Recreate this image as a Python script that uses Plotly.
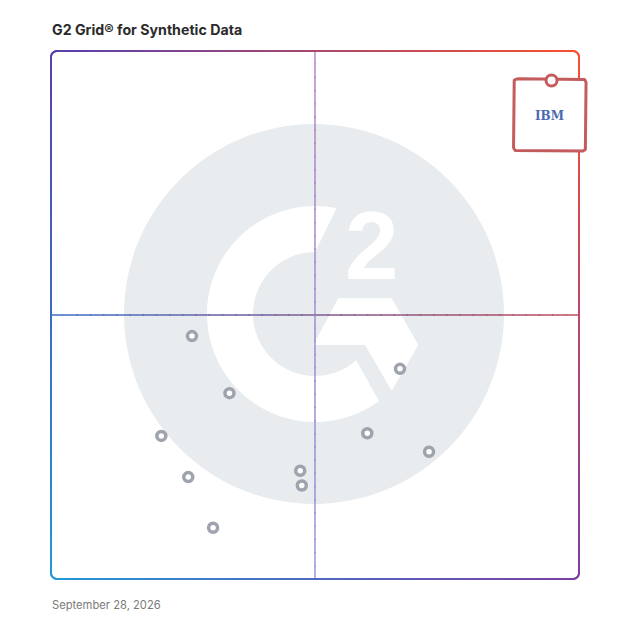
import numpy as np
import plotly.graph_objects as go

# ---------------- data ----------------
title_text = "G2 Grid® for Synthetic Data"
date_text = "September 28, 2026"

leader_names = ["IBM"]
leader_x = [94.8]          # market presence
leader_y = [94.4]          # satisfaction

other_x = [26.7, 33.8, 20.9, 26.0, 47.2, 47.5, 66.1, 59.9, 71.6, 30.7]
other_y = [46.0, 35.2, 27.1, 19.3, 20.5, 17.7, 39.8, 27.6, 24.1, 9.7]

# ---------------- geometry helpers ----------------
S = 5.28  # px per data unit (frame 0..100 spans 528 px)
L_PX, T_PX = 41, 41
R_PX, B_PX = 599, 589
FRAME_L, FRAME_B = 51, 579

def px_to_x(px):
    return (px - FRAME_L) / S

def py_to_y(py):
    return (FRAME_B - py) / S

def px_to_paper(px):
    return (px - L_PX) / (R_PX - L_PX)

def py_to_paper(py):
    return (B_PX - py) / (B_PX - T_PX)

TL = np.array([88, 64, 176])
TR = np.array([250, 82, 45])
BL = np.array([35, 152, 215])
BR = np.array([125, 62, 165])

def bilinear(u, v):
    top = TL * (1 - u) + TR * u
    bot = BL * (1 - u) + BR * u
    c = bot * (1 - v) + top * v
    return "rgb(%d,%d,%d)" % tuple(np.clip(c, 0, 255).astype(int))

def lerp_col(c0, c1, t):
    c = np.array(c0) * (1 - t) + np.array(c1) * t
    return "rgb(%d,%d,%d)" % tuple(c.astype(int))

def rounded_rect_points(x0, y0, x1, y1, r, n_edge=30, n_arc=6):
    pts = []
    for t in np.linspace(0, 1, n_edge + 1)[:-1]:
        pts.append((x0 + r + (x1 - x0 - 2 * r) * t, y1))
    for a in np.linspace(90, 0, n_arc + 1)[:-1]:
        pts.append((x1 - r + r * np.cos(np.radians(a)), y1 - r + r * np.sin(np.radians(a))))
    for t in np.linspace(0, 1, n_edge + 1)[:-1]:
        pts.append((x1, y1 - r - (y1 - y0 - 2 * r) * t))
    for a in np.linspace(0, -90, n_arc + 1)[:-1]:
        pts.append((x1 - r + r * np.cos(np.radians(a)), y0 + r + r * np.sin(np.radians(a))))
    for t in np.linspace(0, 1, n_edge + 1)[:-1]:
        pts.append((x1 - r - (x1 - x0 - 2 * r) * t, y0))
    for a in np.linspace(-90, -180, n_arc + 1)[:-1]:
        pts.append((x0 + r + r * np.cos(np.radians(a)), y0 + r + r * np.sin(np.radians(a))))
    for t in np.linspace(0, 1, n_edge + 1)[:-1]:
        pts.append((x0, y0 + r + (y1 - y0 - 2 * r) * t))
    for a in np.linspace(180, 90, n_arc + 1):
        pts.append((x0 + r + r * np.cos(np.radians(a)), y1 - r + r * np.sin(np.radians(a))))
    return pts

def path_from(points):
    return "M " + " L ".join("%.3f,%.3f" % p for p in points) + " Z"

def extended(xa, ya, xb, yb, ext):
    dx, dy = xb - xa, yb - ya
    d = np.hypot(dx, dy)
    if d == 0:
        return xa, ya, xb, yb
    ux, uy = dx / d, dy / d
    return xa - ux * ext, ya - uy * ext, xb + ux * ext, yb + uy * ext

shapes = []

# ---------------- G2 watermark ----------------
cx, cy = px_to_x(314), py_to_y(314)
shapes.append(dict(type="circle", xref="x", yref="y",
                   x0=cx - 190 / S, x1=cx + 190 / S, y0=cy - 190 / S, y1=cy + 190 / S,
                   fillcolor="#E9ECEF", line=dict(width=0), layer="below"))

gcx, gcy = px_to_x(315), py_to_y(314)
Ro, Ri = 108 / S, 62 / S
c_pts = []
for a in np.linspace(78.5, 306.3, 80):
    c_pts.append((gcx + Ro * np.cos(np.radians(a)), gcy + Ro * np.sin(np.radians(a))))
for a in np.linspace(311.6, 90, 60):
    c_pts.append((gcx + Ri * np.cos(np.radians(a)), gcy + Ri * np.sin(np.radians(a))))
shapes.append(dict(type="path", xref="x", yref="y", path=path_from(c_pts),
                   fillcolor="white", line=dict(width=0), layer="below"))

chev_px = [(338.3, 298.3), (391.7, 298.3), (418.3, 345), (391.7, 390.7), (365, 345), (313.3, 345)]
chev = [(px_to_x(a), py_to_y(b)) for a, b in chev_px]
shapes.append(dict(type="path", xref="x", yref="y", path=path_from(chev),
                   fillcolor="white", line=dict(width=0), layer="below"))

# ---------------- crosshair (gradient) ----------------
N = 40
ext = 0.12
for i in range(N):
    t0, t1 = i / N, (i + 1) / N
    xa, ya, xb, yb = extended(100 * t0, 50, 100 * t1, 50, ext if 0 < i < N - 1 else 0)
    shapes.append(dict(type="line", xref="x", yref="y", x0=xa, x1=xb, y0=ya, y1=yb,
                       line=dict(color=lerp_col((58, 110, 200), (192, 74, 92), (t0 + t1) / 2), width=1.5),
                       layer="below"))
    xa, ya, xb, yb = extended(50, 100 - 100 * t0, 50, 100 - 100 * t1, ext if 0 < i < N - 1 else 0)
    shapes.append(dict(type="line", xref="x", yref="y", x0=xa, x1=xb, y0=ya, y1=yb,
                       line=dict(color=lerp_col((172, 118, 190), (132, 138, 214), (t0 + t1) / 2), width=1.3),
                       layer="below"))

# ---------------- rounded gradient frame ----------------
fp = rounded_rect_points(0, 0, 100, 100, 6 / S)
for (xa, ya), (xb, yb) in zip(fp[:-1], fp[1:]):
    mx, my = (xa + xb) / 2, (ya + yb) / 2
    ea, fa, eb, fb = extended(xa, ya, xb, yb, 0.12)
    shapes.append(dict(type="line", xref="x", yref="y", x0=ea, y0=fa, x1=eb, y1=fb,
                       line=dict(color=bilinear(mx / 100, my / 100), width=2), layer="below"))

# ---------------- figure ----------------
fig = go.Figure()

bx0 = leader_x[0] - 38 / S
bx1 = leader_x[0] + 34.5 / S
by1 = leader_y[0] + 1.7 / S
by0 = leader_y[0] - 70.5 / S
box_pts = rounded_rect_points(bx0, by0, bx1, by1, 4 / S, n_edge=2, n_arc=8)
fig.add_trace(go.Scatter(x=[p[0] for p in box_pts], y=[p[1] for p in box_pts],
                         mode="lines", fill="toself", fillcolor="white",
                         line=dict(color="#C45B5C", width=3), hoverinfo="skip"))

fig.add_trace(go.Scatter(x=other_x, y=other_y, mode="markers", cliponaxis=False,
                         marker=dict(symbol="circle", size=9, color="white",
                                     line=dict(color="#9EA3AD", width=3.5)),
                         hoverinfo="skip"))

fig.add_trace(go.Scatter(x=leader_x, y=leader_y, mode="markers", cliponaxis=False,
                         marker=dict(symbol="circle", size=11, color="white",
                                     line=dict(color="#C45B5C", width=3)),
                         hoverinfo="skip"))

annotations = [
    dict(x=px_to_x(371.7), y=py_to_y(245), xref="x", yref="y", text="<b>2</b>",
         showarrow=False, font=dict(family="Liberation Sans", size=96, color="white"),
         xanchor="center", yanchor="middle"),
    dict(x=leader_x[0] - 2 / S, y=leader_y[0] - 35.5 / S, xref="x", yref="y",
         text="<b>" + leader_names[0] + "</b>", showarrow=False,
         font=dict(family="DejaVu Serif", size=12, color="#4A68B4"),
         xanchor="center", yanchor="middle"),
    dict(x=px_to_paper(51), y=py_to_paper(29.5), xref="paper", yref="paper",
         text="<b>" + title_text + "</b>",
         showarrow=False, font=dict(family="Inter", size=14.2, color="#2B2B2B"),
         xanchor="left", yanchor="middle", xshift=-1),
    dict(x=px_to_paper(51), y=py_to_paper(605), xref="paper", yref="paper", text=date_text,
         showarrow=False, font=dict(family="Inter", size=11.2, color="#7A7A7A"),
         xanchor="left", yanchor="middle", xshift=-1),
]

fig.update_layout(
    width=628, height=628,
    margin=dict(l=L_PX, r=628 - R_PX, t=T_PX, b=628 - B_PX, pad=0),
    paper_bgcolor="white", plot_bgcolor="white",
    showlegend=False, hovermode=False,
    xaxis=dict(range=[px_to_x(L_PX), px_to_x(R_PX)], visible=False, fixedrange=True),
    yaxis=dict(range=[py_to_y(B_PX), py_to_y(T_PX)], visible=False, fixedrange=True),
    shapes=shapes, annotations=annotations,
)

fig.write_html("out.html", config={"displayModeBar": False},
               post_script="document.body.style.margin='0';document.body.style.padding='0';")
